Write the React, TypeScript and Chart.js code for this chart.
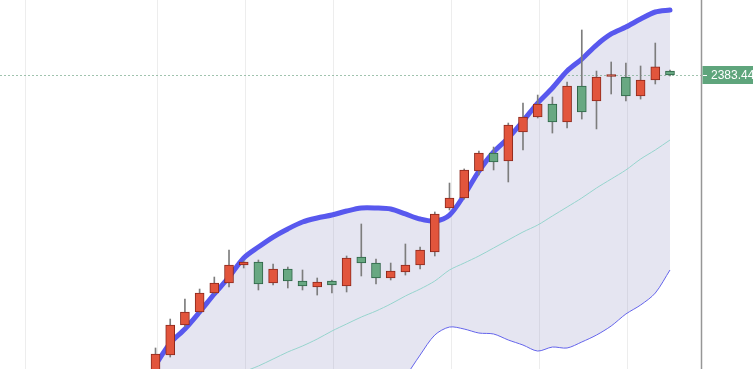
import React, { useEffect, useRef } from "react";
import { Chart, registerables } from "chart.js";

Chart.register(...registerables);

// Candle positions (trading-session index)
const sessions = [0, 1, 2, 3, 4, 5, 6, 7, 8, 9, 10, 11, 12, 13, 14, 15, 16, 17, 18, 19, 20, 21, 22, 23, 24, 25, 26, 27, 28, 29, 30, 31, 32, 33, 34, 35];

const opens = [2068.4, 2089.4, 2120.9, 2134.6, 2154.5, 2165.0, 2183.9, 2187.1, 2165.0, 2179.7, 2167.1, 2160.8, 2167.1, 2161.9, 2192.3, 2186.0, 2170.3, 2176.6, 2183.9, 2197.6, 2243.8, 2254.3, 2282.6, 2301.5, 2293.1, 2323.6, 2339.3, 2353.0, 2334.1, 2371.9, 2356.1, 2381.9, 2381.3, 2361.4, 2378.2, 2387.6];
const highs = [2096.8, 2127.2, 2148.2, 2158.7, 2171.3, 2199.7, 2188.2, 2189.2, 2185.0, 2181.8, 2178.7, 2170.3, 2168.2, 2193.4, 2227.0, 2190.2, 2186.0, 2206.0, 2202.8, 2239.6, 2270.0, 2284.8, 2303.6, 2307.8, 2333.0, 2354.0, 2362.4, 2360.3, 2376.1, 2430.7, 2387.6, 2397.1, 2396.0, 2392.9, 2417.0, 2388.7];
const lows = [2063.2, 2087.3, 2118.8, 2133.5, 2153.5, 2160.8, 2180.8, 2157.7, 2162.9, 2159.8, 2157.7, 2152.4, 2154.5, 2155.6, 2172.4, 2164.0, 2168.2, 2173.4, 2179.7, 2193.4, 2241.7, 2253.2, 2278.4, 2283.7, 2271.1, 2304.7, 2338.3, 2322.5, 2327.8, 2337.2, 2326.8, 2363.5, 2356.1, 2358.2, 2374.0, 2382.4];
const closes = [2090.5, 2120.9, 2134.6, 2154.5, 2165.0, 2183.9, 2187.1, 2164.0, 2179.7, 2167.1, 2161.9, 2166.1, 2162.9, 2191.3, 2186.0, 2170.3, 2177.6, 2183.9, 2199.7, 2237.5, 2254.3, 2283.7, 2301.5, 2292.1, 2330.9, 2339.3, 2353.0, 2334.1, 2371.9, 2344.6, 2381.3, 2382.4, 2361.4, 2378.2, 2391.9, 2383.44];

// Bollinger bands
const upperBand = [2078.9, 2102.0, 2116.7, 2134.6, 2153.5, 2171.3, 2191.3, 2202.8, 2213.3, 2221.8, 2229.1, 2233.3, 2236.4, 2240.6, 2243.8, 2243.8, 2242.7, 2237.5, 2232.2, 2230.1, 2236.4, 2257.4, 2282.6, 2302.6, 2317.3, 2335.1, 2354.0, 2369.8, 2387.6, 2400.2, 2414.9, 2426.5, 2433.8, 2442.2, 2449.6, 2451.7];
const middleBand = [2010.7, 2021.2, 2031.7, 2042.2, 2052.7, 2063.2, 2071.6, 2077.9, 2085.2, 2092.6, 2098.9, 2106.2, 2114.6, 2122.0, 2129.3, 2135.6, 2143.0, 2151.4, 2158.7, 2167.1, 2178.7, 2186.0, 2193.4, 2201.8, 2210.2, 2218.6, 2225.9, 2235.4, 2244.8, 2254.3, 2264.8, 2274.2, 2283.7, 2295.2, 2304.7, 2315.2];
const lowerBand = [1942.4, 1940.4, 1946.6, 1949.8, 1951.9, 1955.0, 1951.9, 1952.9, 1957.2, 1963.4, 1968.7, 1979.2, 1992.8, 2003.3, 2014.9, 2027.5, 2043.2, 2066.3, 2089.4, 2110.4, 2118.8, 2116.7, 2112.5, 2111.5, 2105.2, 2099.9, 2093.6, 2097.8, 2096.8, 2103.1, 2110.4, 2119.9, 2132.5, 2141.9, 2154.5, 2178.7];

// Vertical grid (date) positions on the session axis
const gridTicks = [-8.86, 0.14, 6.14, 12.14, 20.14, 26.14, 32.14];

const X_MIN = -10.58;
const X_MAX = 37.11;
const Y_MIN = 2074.74;
const Y_MAX = 2462.19;

const UP_FILL = "rgb(226,85,60)";
const UP_BORDER = "rgb(140,40,28)";
const DOWN_FILL = "rgb(104,168,130)";
const DOWN_BORDER = "rgb(45,100,70)";

export default function App() {
  const canvasRef = useRef<HTMLCanvasElement | null>(null);

  useEffect(() => {
    const canvas = canvasRef.current;
    if (!canvas) return;

    const isUp = sessions.map((_, i) => closes[i] >= opens[i]);

    const lastPricePlugin = {
      id: "lastPrice",
      beforeDatasetsDraw(chart: any) {
        const { ctx, chartArea, scales } = chart;
        const y = Math.round(scales.y.getPixelForValue(closes[closes.length - 1])) + 0.5;
        ctx.save();
        ctx.strokeStyle = "rgba(120,170,140,0.7)";
        ctx.lineWidth = 1;
        ctx.setLineDash([2, 2]);
        ctx.beginPath();
        ctx.moveTo(chartArea.left, y);
        ctx.lineTo(chartArea.right, y);
        ctx.stroke();
        ctx.restore();
      },
      afterDraw(chart: any) {
        const { ctx, chartArea, scales } = chart;
        const last = closes[closes.length - 1];
        const y = scales.y.getPixelForValue(last);
        ctx.save();
        // right axis line
        ctx.strokeStyle = "rgb(150,150,150)";
        ctx.lineWidth = 1.5;
        ctx.beginPath();
        ctx.moveTo(chartArea.right + 0.5, 0);
        ctx.lineTo(chartArea.right + 0.5, chart.height);
        ctx.stroke();
        // label box
        ctx.fillStyle = "rgb(95,165,124)";
        ctx.fillRect(chartArea.right + 1.5, y - 9, 60, 18);
        ctx.strokeStyle = "#ffffff";
        ctx.lineWidth = 1;
        ctx.beginPath();
        ctx.moveTo(chartArea.right + 2, Math.round(y) + 0.5);
        ctx.lineTo(chartArea.right + 6, Math.round(y) + 0.5);
        ctx.stroke();
        ctx.fillStyle = "#ffffff";
        ctx.font = '12px "Liberation Sans", Arial, sans-serif';
        ctx.textBaseline = "middle";
        ctx.textAlign = "left";
        ctx.fillText(last.toFixed(2), chartArea.right + 10, y + 0.5);
        ctx.restore();
      },
    };

    const chart = new Chart(canvas, {
      type: "bar",
      data: {
        datasets: [
          {
            type: "bar",
            label: "body",
            data: sessions.map((s, i) => ({ x: s, y: [opens[i], closes[i]] })) as any,
            backgroundColor: isUp.map((u) => (u ? UP_FILL : DOWN_FILL)),
            borderColor: isUp.map((u) => (u ? UP_BORDER : DOWN_BORDER)),
            borderWidth: 1,
            borderSkipped: false,
            barThickness: 9,
            minBarLength: 2,
            grouped: false,
            order: 0,
          } as any,
          {
            type: "bar",
            label: "wick",
            data: sessions.map((s, i) => ({ x: s, y: [lows[i], highs[i]] })) as any,
            backgroundColor: "rgb(125,125,125)",
            borderWidth: 0,
            barThickness: 1,
            grouped: false,
            order: 1,
          } as any,
          {
            type: "line",
            label: "upper",
            data: sessions.map((s, i) => ({ x: s, y: upperBand[i] })),
            borderColor: "rgb(88,88,238)",
            borderWidth: 5,
            borderCapStyle: "round",
            borderJoinStyle: "round",
            backgroundColor: "rgba(130,130,190,0.21)",
            fill: "+1",
            pointRadius: 0,
            tension: 0.3,
            order: 2,
          } as any,
          {
            type: "line",
            label: "lower",
            data: sessions.map((s, i) => ({ x: s, y: lowerBand[i] })),
            borderColor: "rgb(100,100,235)",
            borderWidth: 1,
            fill: false,
            pointRadius: 0,
            tension: 0.3,
            order: 3,
          } as any,
          {
            type: "line",
            label: "middle",
            data: sessions.map((s, i) => ({ x: s, y: middleBand[i] })),
            borderColor: "rgb(150,212,205)",
            borderWidth: 1,
            fill: false,
            pointRadius: 0,
            tension: 0.3,
            order: 4,
          } as any,
        ],
      },
      options: {
        responsive: false,
        animation: false,
        devicePixelRatio: 1,
        layout: { padding: { left: 0, top: 0, bottom: 0, right: 52 } },
        plugins: {
          legend: { display: false },
          tooltip: { enabled: false },
          filler: { drawTime: "beforeDatasetsDraw" } as any,
        },
        scales: {
          x: {
            type: "linear",
            min: X_MIN,
            max: X_MAX,
            offset: false,
            afterBuildTicks: (axis: any) => {
              axis.ticks = gridTicks.map((v) => ({ value: v }));
            },
            grid: { color: "rgba(0,0,0,0.07)", drawTicks: false, lineWidth: 1, offset: false },
            ticks: { display: false },
            border: { display: false },
          },
          y: {
            type: "linear",
            display: false,
            min: Y_MIN,
            max: Y_MAX,
          },
        },
      },
      plugins: [lastPricePlugin],
    });

    return () => chart.destroy();
  }, []);

  return (
    <div style={{ position: "fixed", left: 0, top: 0, width: 753, height: 369, background: "#fff" }}>
      <canvas ref={canvasRef} width={753} height={369} style={{ display: "block" }} />
    </div>
  );
}
